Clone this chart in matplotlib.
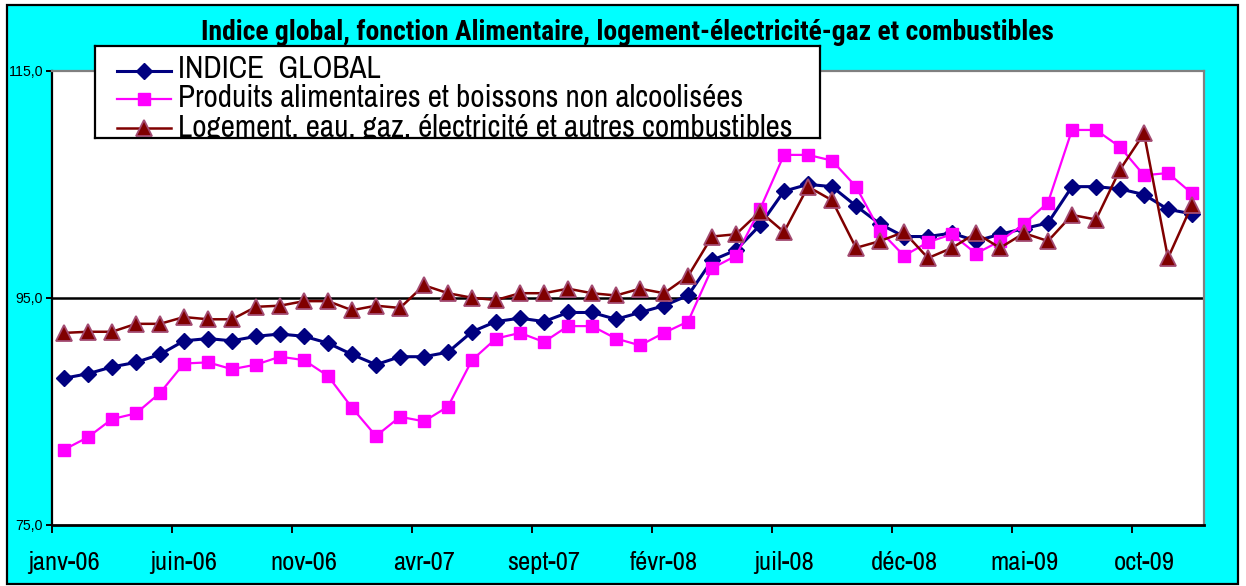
import matplotlib
matplotlib.use('Agg')
import matplotlib.pyplot as plt
from matplotlib.patches import Rectangle
from matplotlib import font_manager

# ---------------- data ----------------
months = ['janv-06', 'févr-06', 'mars-06', 'avr-06', 'mai-06', 'juin-06', 'juil-06', 'août-06',
          'sept-06', 'oct-06', 'nov-06', 'déc-06',
          'janv-07', 'févr-07', 'mars-07', 'avr-07', 'mai-07', 'juin-07', 'juil-07', 'août-07',
          'sept-07', 'oct-07', 'nov-07', 'déc-07',
          'janv-08', 'févr-08', 'mars-08', 'avr-08', 'mai-08', 'juin-08', 'juil-08', 'août-08',
          'sept-08', 'oct-08', 'nov-08', 'déc-08',
          'janv-09', 'févr-09', 'mars-09', 'avr-09', 'mai-09', 'juin-09', 'juil-09', 'août-09',
          'sept-09', 'oct-09', 'nov-09', 'déc-09']

indice_global = [87.9, 88.3, 88.9, 89.3, 90.0, 91.2, 91.4, 91.2, 91.6, 91.8, 91.6, 91.0,
                 90.0, 89.1, 89.8, 89.8, 90.2, 92.0, 92.9, 93.2, 92.9, 93.7, 93.7, 93.1,
                 93.7, 94.3, 95.2, 98.3, 99.2, 101.4, 104.4, 105.0, 104.8, 103.1, 101.5, 100.4,
                 100.4, 100.7, 100.0, 100.6, 101.1, 101.6, 104.8, 104.8, 104.6, 104.1, 102.8, 102.4]

alimentaire = [81.6, 82.7, 84.3, 84.8, 86.6, 89.2, 89.3, 88.7, 89.1, 89.8, 89.5, 88.1,
               85.3, 82.8, 84.5, 84.1, 85.4, 89.5, 91.4, 91.9, 91.1, 92.5, 92.5, 91.4,
               90.8, 91.9, 92.9, 97.6, 98.7, 102.8, 107.6, 107.6, 107.1, 104.8, 100.9, 98.7,
               99.9, 100.6, 98.9, 100.0, 101.5, 103.4, 109.8, 109.8, 108.3, 105.8, 106.0, 104.2]

logement = [91.9, 92.0, 92.0, 92.7, 92.7, 93.3, 93.1, 93.1, 94.2, 94.3, 94.7, 94.7,
            93.9, 94.3, 94.1, 96.1, 95.4, 95.0, 94.8, 95.4, 95.4, 95.8, 95.4, 95.2,
            95.8, 95.4, 96.9, 100.4, 100.6, 102.6, 100.8, 104.8, 103.6, 99.4, 100.0, 100.8,
            98.5, 99.4, 100.7, 99.4, 100.7, 100.0, 102.3, 101.9, 106.3, 109.5, 98.5, 103.2]

series_names = ['INDICE  GLOBAL',
                'Produits alimentaires et boissons non alcoolisées',
                'Logement, eau, gaz, électricité et autres combustibles']
title_text = 'Indice global, fonction Alimentaire, logement-électricité-gaz et combustibles'
y_ticks = [75, 95, 115]
y_ticklabels = ['75,0', '95,0', '115,0']
label_step = 5

# ---------------- fonts ----------------
flist = font_manager.fontManager.ttflist
names = {f.name for f in flist}


def pick(cands, need_bold=False):
    for c in cands:
        if c in names:
            if not need_bold:
                return c
            if any(f.name == c and (f.weight in (700, 'bold')) for f in flist):
                return c
    return 'Liberation Sans'


NARROW = pick(['Liberation Sans Narrow', 'Arimo Narrow', 'Archivo Narrow', 'Roboto Condensed',
               'PT Sans Narrow', 'IBM Plex Sans Condensed'])
NARROW_B = pick(['Liberation Sans Narrow', 'Roboto Condensed', 'PT Sans Narrow',
                 'IBM Plex Sans Condensed', 'Asap Condensed', 'Barlow Semi Condensed'], True)
FAM = [NARROW, 'DejaVu Sans']
FAM_B = [NARROW_B, 'DejaVu Sans']
FAM_Y = ['Liberation Sans', 'DejaVu Sans']

W, H = 1246, 586
fig = plt.figure(figsize=(W / 100, H / 100), dpi=100)
fig.patch.set_facecolor('white')
renderer = fig.canvas.get_renderer()


def fit(s, target_px, fam, weight='normal'):
    t = fig.text(0, 0, s, fontsize=10, family=fam, weight=weight)
    w = t.get_window_extent(renderer).width
    t.remove()
    return 10 * target_px / w


def fx(px):
    return px / W


def fy(py):
    return 1 - py / H


# chart area background
fig.add_artist(Rectangle((fx(7), fy(584)), fx(1238 - 7), (584 - 5) / H,
                         transform=fig.transFigure, facecolor='#00FFFF',
                         edgecolor='black', lw=1.6, zorder=-5))

# ---------------- main axes ----------------
y_top_px, y_bot_px = 71.0, 524.5
ax = fig.add_axes([fx(52), fy(y_bot_px), fx(1204 - 52), (y_bot_px - y_top_px) / H], zorder=1)
ax.set_facecolor('white')

x = list(range(len(months)))
styles = [
    dict(color='#000080', lw=2.2, marker='D', ms=8.2, mfc='#000080', mec='#000080', mew=1),
    dict(color='#FF00FF', lw=1.6, marker='s', ms=8.0, mfc='#FF00FF', mec='#FF00FF', mew=1),
    dict(color='#800000', lw=1.8, marker='^', ms=11, mfc='#800000', mec='#A34B72', mew=1.3),
]
for vals, st in zip([indice_global, alimentaire, logement], styles):
    ax.plot(x, vals, clip_on=False, **st)

ax.axhline(95, color='black', lw=1.8, zorder=1.5)

ax.set_xlim(-0.5, len(months) - 0.5)
ax.set_ylim(75, 115)

# ticks at category boundaries, labels at category centres
ax.set_xticks([i - 0.5 for i in range(0, len(months), label_step)])
ax.set_xticklabels([])
ax.set_xticks(list(range(0, len(months), label_step)), minor=True)
xfs = fit('janv-06', 71.5, FAM)
ax.set_xticklabels([months[i] for i in range(0, len(months), label_step)], minor=True,
                   fontsize=xfs, family=FAM)
ax.tick_params(axis='x', which='major', direction='out', length=5.8, width=1.4, color='black')
ax.tick_params(axis='x', which='minor', length=0, pad=19.0)

ax.set_yticks(y_ticks)
yfs = fit('115,0', 34, FAM_Y)
ax.set_yticklabels(y_ticklabels, fontsize=yfs, family=FAM_Y)
ax.tick_params(axis='y', direction='out', length=4.5, width=1.4, color='black', pad=2)

for s in ['top', 'right']:
    ax.spines[s].set_color('#808080')
    ax.spines[s].set_linewidth(1.6)
ax.spines['left'].set_color('black')
ax.spines['left'].set_linewidth(1.6)
ax.spines['bottom'].set_color('black')
ax.spines['bottom'].set_linewidth(2.0)

# ---------------- title ----------------
tfs = fit(title_text, 856, FAM_B, weight='bold')
fig.text(fx(627), fy(40), title_text, ha='center', va='baseline', fontsize=tfs,
         weight='bold', family=FAM_B, zorder=2)

# ---------------- legend (box clips the last line like the original) ----------------
L, T, R, B = 95, 45.7, 820, 137.5
lax = fig.add_axes([fx(L), fy(B), fx(R - L), (B - T) / H], zorder=5)
lax.set_xlim(L, R)
lax.set_ylim(B, T)
lax.set_facecolor('white')
lax.set_xticks([])
lax.set_yticks([])
for s in lax.spines.values():
    s.set_color('black')
    s.set_linewidth(1.6)

lfs = fit(series_names[1], 570, FAM)
rows = [70.7, 99.0, 127.7]
baselines = [78.5, 107.0, 136.5]
for name, st, yr, yb in zip(series_names, styles, rows, baselines):
    st2 = dict(st)
    mk = st2.pop('marker')
    lax.plot([117, 171], [yr, yr], color=st2['color'], lw=st2['lw'])
    lax.plot([144], [yr], linestyle='none', marker=mk, ms=st2['ms'], mfc=st2['mfc'],
             mec=st2['mec'], mew=st2['mew'])
    lax.text(178, yb, name, ha='left', va='baseline', fontsize=lfs, family=FAM,
             clip_on=True)

fig.savefig('out.png', dpi=100, facecolor=fig.get_facecolor())
